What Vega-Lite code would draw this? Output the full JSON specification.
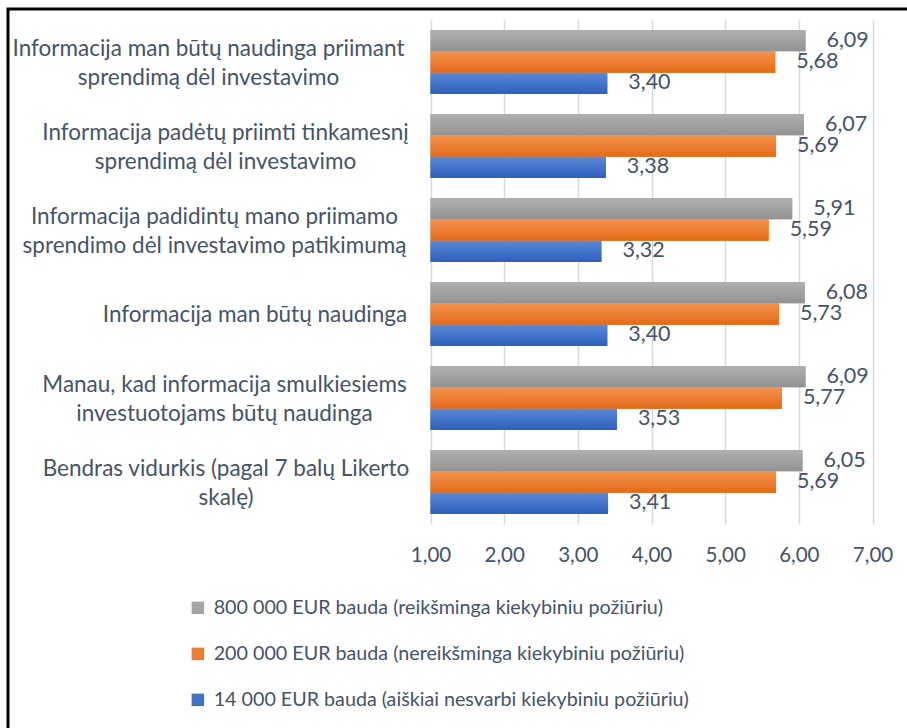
{
  "$schema": "https://vega.github.io/schema/vega-lite/v6.json",
  "width": 902,
  "height": 722,
  "autosize": {"type": "none"},
  "padding": {"left": 8, "top": 9, "right": -3, "bottom": -3},
  "background": "white",
  "data": {
    "values": [
      {"kategorija": "Informacija man būtų naudinga priimant\nsprendimą dėl investavimo", "bauda": "800 000 EUR bauda (reikšminga kiekybiniu požiūriu)", "vidurkis": 6.09},
      {"kategorija": "Informacija man būtų naudinga priimant\nsprendimą dėl investavimo", "bauda": "200 000 EUR bauda (nereikšminga kiekybiniu požiūriu)", "vidurkis": 5.68},
      {"kategorija": "Informacija man būtų naudinga priimant\nsprendimą dėl investavimo", "bauda": "14 000 EUR bauda (aiškiai nesvarbi kiekybiniu požiūriu)", "vidurkis": 3.40},
      {"kategorija": "Informacija padėtų priimti tinkamesnį\nsprendimą dėl investavimo", "bauda": "800 000 EUR bauda (reikšminga kiekybiniu požiūriu)", "vidurkis": 6.07},
      {"kategorija": "Informacija padėtų priimti tinkamesnį\nsprendimą dėl investavimo", "bauda": "200 000 EUR bauda (nereikšminga kiekybiniu požiūriu)", "vidurkis": 5.69},
      {"kategorija": "Informacija padėtų priimti tinkamesnį\nsprendimą dėl investavimo", "bauda": "14 000 EUR bauda (aiškiai nesvarbi kiekybiniu požiūriu)", "vidurkis": 3.38},
      {"kategorija": "Informacija padidintų mano priimamo\nsprendimo dėl investavimo patikimumą", "bauda": "800 000 EUR bauda (reikšminga kiekybiniu požiūriu)", "vidurkis": 5.91},
      {"kategorija": "Informacija padidintų mano priimamo\nsprendimo dėl investavimo patikimumą", "bauda": "200 000 EUR bauda (nereikšminga kiekybiniu požiūriu)", "vidurkis": 5.59},
      {"kategorija": "Informacija padidintų mano priimamo\nsprendimo dėl investavimo patikimumą", "bauda": "14 000 EUR bauda (aiškiai nesvarbi kiekybiniu požiūriu)", "vidurkis": 3.32},
      {"kategorija": "Informacija man būtų naudinga", "bauda": "800 000 EUR bauda (reikšminga kiekybiniu požiūriu)", "vidurkis": 6.08},
      {"kategorija": "Informacija man būtų naudinga", "bauda": "200 000 EUR bauda (nereikšminga kiekybiniu požiūriu)", "vidurkis": 5.73},
      {"kategorija": "Informacija man būtų naudinga", "bauda": "14 000 EUR bauda (aiškiai nesvarbi kiekybiniu požiūriu)", "vidurkis": 3.40},
      {"kategorija": "Manau, kad informacija smulkiesiems\ninvestuotojams būtų naudinga", "bauda": "800 000 EUR bauda (reikšminga kiekybiniu požiūriu)", "vidurkis": 6.09},
      {"kategorija": "Manau, kad informacija smulkiesiems\ninvestuotojams būtų naudinga", "bauda": "200 000 EUR bauda (nereikšminga kiekybiniu požiūriu)", "vidurkis": 5.77},
      {"kategorija": "Manau, kad informacija smulkiesiems\ninvestuotojams būtų naudinga", "bauda": "14 000 EUR bauda (aiškiai nesvarbi kiekybiniu požiūriu)", "vidurkis": 3.53},
      {"kategorija": "Bendras vidurkis (pagal 7 balų Likerto\nskalę)", "bauda": "800 000 EUR bauda (reikšminga kiekybiniu požiūriu)", "vidurkis": 6.05},
      {"kategorija": "Bendras vidurkis (pagal 7 balų Likerto\nskalę)", "bauda": "200 000 EUR bauda (nereikšminga kiekybiniu požiūriu)", "vidurkis": 5.69},
      {"kategorija": "Bendras vidurkis (pagal 7 balų Likerto\nskalę)", "bauda": "14 000 EUR bauda (aiškiai nesvarbi kiekybiniu požiūriu)", "vidurkis": 3.41}
    ]
  },
  "encoding": {
    "y": {
      "field": "kategorija",
      "type": "nominal",
      "sort": null,
      "scale": {"range": [11, 515], "paddingInner": 0.24, "paddingOuter": 0.12},
      "axis": {
        "title": null,
        "offset": -422.5,
        "domain": false,
        "ticks": false,
        "tickSize": 0,
        "grid": false,
        "labelExpr": "split(datum.value, '\\n')",
        "labelAlign": "center",
        "labelBaseline": "middle",
        "labelFont": "Lato",
        "labelFontSize": 22.5,
        "labelColor": "#44546A",
        "labelLineHeight": 29,
        "labelLimit": 500,
        "labelOffset": {
          "condition": {"test": "indexof(datum.value, '\\n') >= 0", "value": -13.5},
          "value": 1
        },
        "labelPadding": {
          "condition": [
            {"test": "indexof(datum.value, 'priimant') >= 0", "value": 222.5},
            {"test": "indexof(datum.value, 'tinkamesn') >= 0", "value": 205.5},
            {"test": "indexof(datum.value, 'patikimum') >= 0", "value": 216.5},
            {"test": "indexof(datum.value, 'smulkiesiems') >= 0", "value": 206.5},
            {"test": "indexof(datum.value, 'Likerto') >= 0", "value": 205}
          ],
          "value": 176
        }
      }
    },
    "yOffset": {
      "field": "bauda",
      "type": "nominal",
      "sort": ["800 000 EUR bauda (reikšminga kiekybiniu požiūriu)", "200 000 EUR bauda (nereikšminga kiekybiniu požiūriu)", "14 000 EUR bauda (aiškiai nesvarbi kiekybiniu požiūriu)"],
      "scale": {"paddingInner": 0, "paddingOuter": 0}
    },
    "x": {
      "field": "vidurkis",
      "type": "quantitative",
      "scale": {"domain": [1, 7], "range": [422.5, 864.5], "nice": false, "zero": false},
      "axis": {
        "title": null,
        "orient": "top",
        "offset": -515,
        "domain": false,
        "ticks": false,
        "tickSize": 0,
        "grid": true,
        "gridColor": "#D9D9D9",
        "gridWidth": 1.5,
        "values": [1, 2, 3, 4, 5, 6, 7],
        "format": ".2f",
        "labelFont": "Lato",
        "labelFontSize": 20.5,
        "labelColor": "#44546A",
        "labelBaseline": "top",
        "labelPadding": -21,
        "labelFlush": false
      }
    }
  },
  "layer": [
    {
      "mark": {"type": "bar"},
      "encoding": {
        "x2": {"datum": 1},
        "color": {
          "field": "bauda",
          "type": "nominal",
          "scale": {
            "domain": ["800 000 EUR bauda (reikšminga kiekybiniu požiūriu)", "200 000 EUR bauda (nereikšminga kiekybiniu požiūriu)", "14 000 EUR bauda (aiškiai nesvarbi kiekybiniu požiūriu)"],
            "range": ["#A5A5A5", "#ED7D31", "#4472C4"]
          },
          "legend": {
            "title": null,
            "orient": "none",
            "legendX": 180,
            "legendY": 589,
            "direction": "vertical",
            "symbolType": "square",
            "symbolSize": 155,
            "symbolStrokeWidth": 0,
            "labelFont": "Lato",
            "labelFontSize": 19.7,
            "labelColor": "#44546A",
            "labelOffset": 6,
            "labelLimit": 700,
            "rowPadding": 25
          }
        }
      }
    },
    {
      "transform": [{"filter": "datum.bauda === '800 000 EUR bauda (reikšminga kiekybiniu požiūriu)'"}],
      "mark": {"type": "bar", "fill": {"gradient": "linear", "x1": 0, "y1": 0, "x2": 0, "y2": 1, "stops": [{"offset": 0, "color": "#AFAFAF"}, {"offset": 1, "color": "#929292"}]}},
      "encoding": {"x2": {"datum": 1}}
    },
    {
      "transform": [{"filter": "datum.bauda === '200 000 EUR bauda (nereikšminga kiekybiniu požiūriu)'"}],
      "mark": {"type": "bar", "fill": {"gradient": "linear", "x1": 0, "y1": 0, "x2": 0, "y2": 1, "stops": [{"offset": 0, "color": "#F5924F"}, {"offset": 1, "color": "#E46A18"}]}},
      "encoding": {"x2": {"datum": 1}}
    },
    {
      "transform": [{"filter": "datum.bauda === '14 000 EUR bauda (aiškiai nesvarbi kiekybiniu požiūriu)'"}],
      "mark": {"type": "bar", "fill": {"gradient": "linear", "x1": 0, "y1": 0, "x2": 0, "y2": 1, "stops": [{"offset": 0, "color": "#5C8AD8"}, {"offset": 1, "color": "#2D5FBD"}]}},
      "encoding": {"x2": {"datum": 1}}
    },
    {
      "mark": {"type": "text", "align": "left", "baseline": "middle", "dx": 21, "font": "Lato", "fontSize": 21.5, "color": "#44546A"},
      "encoding": {"text": {"field": "vidurkis", "type": "quantitative", "format": ".2f"}}
    }
  ],
  "config": {
    "font": "Lato",
    "locale": {"number": {"decimal": ",", "thousands": " ", "grouping": [3], "currency": ["", " €"]}},
    "view": {"stroke": "#000000", "strokeWidth": 3}
  }
}
